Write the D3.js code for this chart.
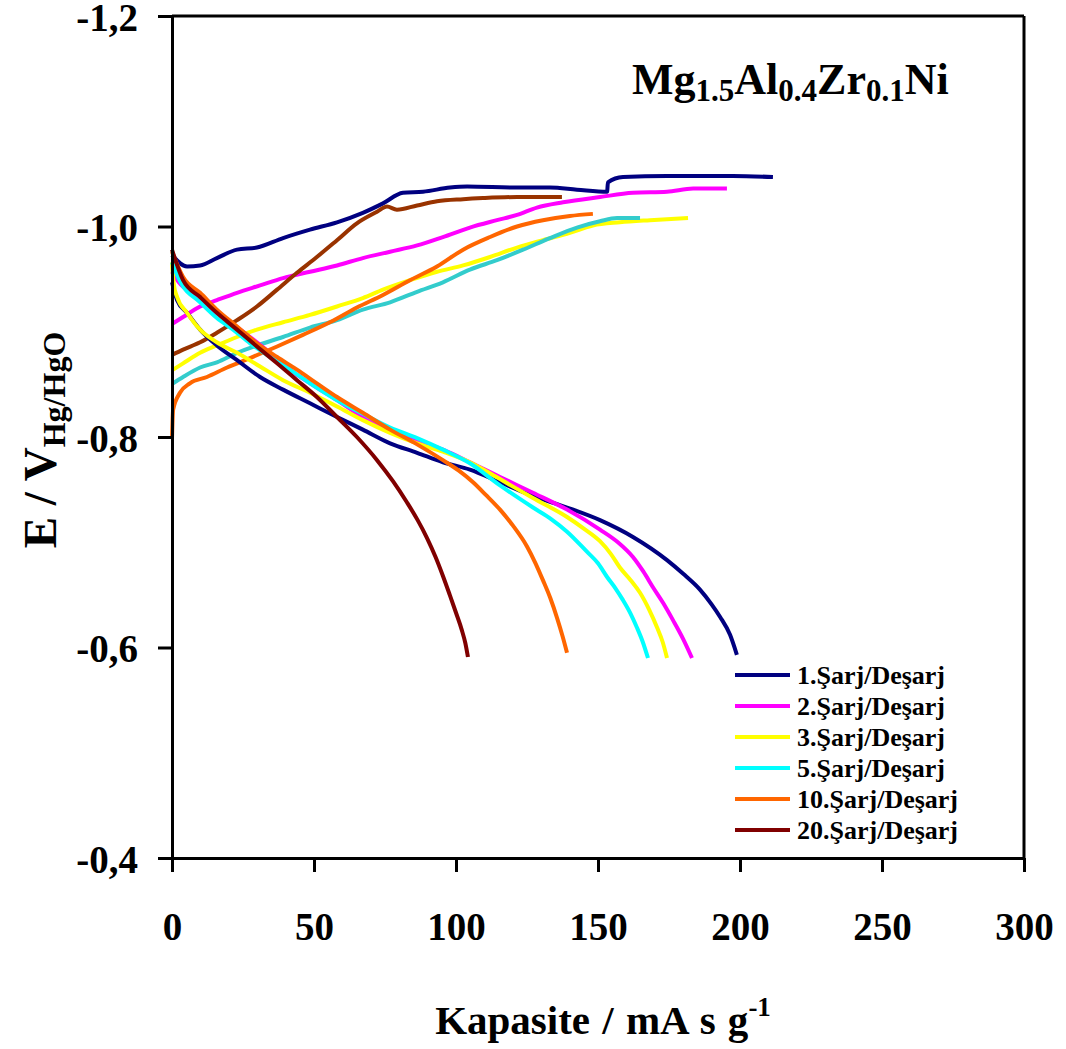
<!DOCTYPE html>
<html>
<head>
<meta charset="utf-8">
<script src="https://cdn.jsdelivr.net/npm/d3@7/dist/d3.min.js"></script>
<style>
  html, body { margin: 0; padding: 0; background: #fff; }
  svg { display: block; }
  text { font-family: "Liberation Serif", "Times New Roman", serif; font-weight: bold; fill: #000; }
</style>
</head>
<body>
<svg id="chart" width="1066" height="1049"></svg>
<script>
// ---------- DATA ----------
const xTicks = [0, 50, 100, 150, 200, 250, 300];
const xTickLabels = ["0", "50", "100", "150", "200", "250", "300"];
const yTicks = [-1.2, -1.0, -0.8, -0.6, -0.4];
const yTickLabels = ["-1,2", "-1,0", "-0,8", "-0,6", "-0,4"];

const seriesNames = ["1.Şarj/Deşarj", "2.Şarj/Deşarj", "3.Şarj/Deşarj", "5.Şarj/Deşarj", "10.Şarj/Deşarj", "20.Şarj/Deşarj"];
const dischargeColors = ["#000080", "#FF00FF", "#FFFF00", "#00FFFF", "#FF6600", "#800000"];
const chargeColors = ["#000080", "#FF00FF", "#FFFF00", "#33CCCC", "#FF6600", "#993300"];

// charge curves [capacity, E]
const charge1 = [[0,-0.973],[5.3,-0.962],[9.9,-0.963],[15.8,-0.970],[22.9,-0.978],[29.9,-0.980],[39.1,-0.989],[48.6,-0.997],[58.1,-1.004],[67.2,-1.013],[74.3,-1.022],[81.3,-1.032],[88.4,-1.033],[97.9,-1.037],[103.9,-1.038],[121.5,-1.037],[133.1,-1.037],[142.6,-1.035],[153.2,-1.033],[153.5,-1.042],[158.8,-1.047],[174.3,-1.048],[197.5,-1.048],[211.6,-1.047]];
const charge2 = [[0.4,-0.908],[3.9,-0.914],[9.9,-0.924],[15.8,-0.930],[22.9,-0.937],[31.0,-0.944],[39.1,-0.951],[48.6,-0.957],[58.1,-0.963],[67.2,-0.970],[76.8,-0.976],[86.3,-0.982],[95.4,-0.990],[104.9,-0.999],[114.4,-1.006],[121.5,-1.011],[128.5,-1.018],[137.7,-1.023],[150.7,-1.028],[162.3,-1.032],[174.3,-1.033],[183.5,-1.036],[195.4,-1.036]];
const charge3 = [[0.4,-0.864],[3.9,-0.870],[9.9,-0.880],[15.8,-0.887],[22.9,-0.895],[29.9,-0.902],[39.1,-0.909],[48.6,-0.916],[58.1,-0.924],[67.2,-0.932],[74.3,-0.940],[83.8,-0.949],[93.3,-0.957],[102.5,-0.963],[112.0,-0.971],[121.5,-0.980],[130.6,-0.987],[140.1,-0.994],[148.2,-1.001],[157.7,-1.004],[168.3,-1.006],[181.7,-1.008]];
const charge5 = [[0.4,-0.851],[3.9,-0.857],[9.9,-0.866],[15.8,-0.871],[22.9,-0.880],[29.9,-0.887],[39.1,-0.895],[48.6,-0.904],[58.1,-0.911],[67.2,-0.921],[76.8,-0.928],[86.3,-0.938],[95.4,-0.947],[104.9,-0.959],[114.4,-0.968],[123.6,-0.978],[133.1,-0.989],[142.6,-0.999],[150.7,-1.005],[156.7,-1.008],[164.8,-1.008]];
const charge10 = [[0,-0.798],[0.4,-0.826],[2.8,-0.842],[6.3,-0.851],[12.3,-0.857],[19.4,-0.866],[27.5,-0.875],[37.0,-0.886],[46.1,-0.897],[55.6,-0.909],[65.1,-0.923],[74.3,-0.935],[83.8,-0.949],[93.3,-0.962],[102.5,-0.978],[112.0,-0.990],[121.5,-1.000],[130.6,-1.006],[140.1,-1.010],[148.2,-1.012]];
const charge20 = [[0,-0.878],[3.9,-0.883],[9.9,-0.890],[15.8,-0.899],[22.9,-0.911],[29.9,-0.924],[37.0,-0.940],[44.0,-0.956],[51.0,-0.971],[58.1,-0.987],[65.1,-1.003],[72.2,-1.014],[75.7,-1.019],[79.2,-1.016],[86.3,-1.020],[93.3,-1.024],[102.5,-1.026],[109.5,-1.027],[121.5,-1.028],[137.3,-1.028]];

// discharge curves [capacity, E]
const discharge1 = [[0,-0.947],[1.8,-0.930],[5.3,-0.918],[9.9,-0.902],[15.8,-0.887],[22.9,-0.873],[31.0,-0.857],[39.1,-0.845],[48.6,-0.832],[58.1,-0.819],[67.2,-0.807],[76.8,-0.794],[86.3,-0.785],[95.4,-0.776],[104.9,-0.769],[115.5,-0.757],[127.1,-0.744],[139.1,-0.733],[150.7,-0.721],[162.3,-0.705],[174.3,-0.683],[180.0,-0.670],[185.9,-0.655],[190.0,-0.641],[193.0,-0.629],[196.5,-0.612],[198.9,-0.593]];
const discharge2 = [[0,-0.957],[1.8,-0.949],[6.3,-0.937],[12.3,-0.924],[19.4,-0.911],[27.5,-0.895],[34.5,-0.880],[41.5,-0.864],[48.6,-0.851],[58.1,-0.835],[67.2,-0.819],[76.8,-0.807],[86.3,-0.797],[95.4,-0.788],[104.9,-0.776],[115.5,-0.762],[127.1,-0.747],[139.1,-0.731],[150.7,-0.712],[157.0,-0.700],[162.3,-0.686],[166.0,-0.672],[169.4,-0.657],[173.0,-0.642],[176.4,-0.626],[180.0,-0.608],[183.1,-0.590]];
const discharge3 = [[0,-0.966],[0.7,-0.944],[1.8,-0.933],[5.3,-0.918],[9.9,-0.902],[15.8,-0.890],[22.9,-0.880],[31.0,-0.867],[39.1,-0.854],[48.6,-0.842],[58.1,-0.829],[67.2,-0.816],[76.8,-0.804],[86.3,-0.794],[95.4,-0.786],[104.9,-0.776],[115.5,-0.760],[127.1,-0.742],[139.1,-0.724],[145.0,-0.713],[150.7,-0.701],[154.5,-0.689],[157.7,-0.676],[161.5,-0.664],[164.8,-0.652],[168.0,-0.636],[170.8,-0.619],[172.8,-0.605],[174.3,-0.590]];
const discharge5 = [[0,-0.966],[2.8,-0.948],[9.9,-0.928],[15.8,-0.913],[21.5,-0.902],[27.5,-0.889],[34.5,-0.876],[41.5,-0.864],[48.6,-0.851],[58.1,-0.835],[67.2,-0.822],[76.8,-0.809],[86.3,-0.799],[95.4,-0.788],[104.9,-0.775],[115.5,-0.754],[127.1,-0.733],[133.5,-0.722],[139.1,-0.710],[146.1,-0.691],[150.0,-0.680],[153.2,-0.667],[156.2,-0.656],[158.8,-0.645],[161.5,-0.632],[163.7,-0.619],[165.8,-0.605],[167.6,-0.590]];
const discharge10 = [[0,-0.976],[3.9,-0.952],[9.9,-0.937],[15.8,-0.921],[22.9,-0.905],[29.9,-0.889],[37.0,-0.876],[44.0,-0.864],[51.0,-0.851],[58.1,-0.838],[67.2,-0.823],[76.8,-0.807],[86.3,-0.793],[95.4,-0.778],[101.0,-0.768],[106.0,-0.757],[110.5,-0.745],[115.5,-0.731],[120.0,-0.716],[125.0,-0.696],[128.0,-0.680],[130.6,-0.664],[133.2,-0.647],[135.6,-0.628],[137.5,-0.611],[139.1,-0.595]];
const discharge20 = [[0,-0.978],[3.9,-0.949],[9.9,-0.933],[15.8,-0.918],[22.9,-0.902],[29.9,-0.886],[37.0,-0.870],[44.0,-0.854],[51.0,-0.838],[58.1,-0.819],[65.1,-0.800],[72.2,-0.778],[77.8,-0.758],[82.7,-0.738],[86.5,-0.721],[89.8,-0.704],[92.8,-0.686],[95.4,-0.668],[97.8,-0.650],[100.0,-0.633],[102.0,-0.617],[103.3,-0.604],[104.2,-0.591]];

const charges = [charge1, charge2, charge3, charge5, charge10, charge20];
const discharges = [discharge1, discharge2, discharge3, discharge5, discharge10, discharge20];

// ---------- CHART ----------
const svg = d3.select("#chart");
const L = 172, R = 1024, T = 16, B = 858;

const x = d3.scaleLinear().domain([0, 300]).range([L, R]);
const y = d3.scaleLinear().domain([-0.4, -1.2]).range([B, T]);

const line = d3.line().x(d => x(d[0])).y(d => y(d[1])).curve(d3.curveMonotoneX);

const plot = svg.append("g");
charges.forEach((s, i) => {
  plot.append("path").datum(s).attr("d", line)
    .attr("fill", "none").attr("stroke", chargeColors[i])
    .attr("stroke-width", 4).attr("stroke-linejoin", "round");
});
discharges.forEach((s, i) => {
  plot.append("path").datum(s).attr("d", line)
    .attr("fill", "none").attr("stroke", dischargeColors[i])
    .attr("stroke-width", 4).attr("stroke-linejoin", "round");
});

// frame (top and right)
svg.append("line").attr("x1", x(0)).attr("x2", x(300)).attr("y1", y(-1.2)).attr("y2", y(-1.2))
  .attr("stroke", "#000").attr("stroke-width", 3);
svg.append("line").attr("x1", x(300)).attr("x2", x(300)).attr("y1", y(-1.2)).attr("y2", y(-0.4))
  .attr("stroke", "#000").attr("stroke-width", 3);

// axes
const yAxis = d3.axisLeft(y).tickValues(yTicks).tickSize(14).tickSizeOuter(0)
  .tickPadding(20).tickFormat((d, i) => yTickLabels[i]);
const gy = svg.append("g").attr("transform", `translate(${L},0)`).call(yAxis);

const xAxis = d3.axisBottom(x).tickValues(xTicks).tickSize(14).tickSizeOuter(0)
  .tickPadding(40).tickFormat((d, i) => xTickLabels[i]);
const gx = svg.append("g").attr("transform", `translate(0,${B})`).call(xAxis);

[gx, gy].forEach(g => {
  g.select(".domain").attr("stroke", "#000").attr("stroke-width", 3);
  g.selectAll(".tick line").attr("stroke", "#000").attr("stroke-width", 3);
  g.selectAll(".tick text").attr("font-family", "Liberation Serif, serif")
    .attr("font-weight", "bold").attr("fill", "#000");
});
gy.selectAll(".tick text").attr("font-size", 39).attr("dy", "0.36em");
gx.selectAll(".tick text").attr("font-size", 39);

// axis titles
const xt = svg.append("text").attr("x", 603).attr("y", 1034).attr("text-anchor", "middle")
  .attr("font-size", 41).attr("word-spacing", 2);
xt.append("tspan").text("Kapasite / mA s g");
xt.append("tspan").attr("dy", -18).attr("font-size", 27).text("-1");

const yt = svg.append("text").attr("transform", "translate(56,440) rotate(-90)")
  .attr("text-anchor", "middle").attr("font-size", 47);
yt.append("tspan").text("E / V");
yt.append("tspan").attr("dy", 9).attr("font-size", 32).text("Hg/HgO");

// chart title
const tt = svg.append("text").attr("x", 632).attr("y", 94).attr("font-size", 44);
tt.append("tspan").text("Mg");
tt.append("tspan").attr("dy", 7).attr("font-size", 31).text("1.5");
tt.append("tspan").attr("dy", -7).text("Al");
tt.append("tspan").attr("dy", 7).attr("font-size", 31).text("0.4");
tt.append("tspan").attr("dy", -7).text("Zr");
tt.append("tspan").attr("dy", 7).attr("font-size", 31).text("0.1");
tt.append("tspan").attr("dy", -7).text("Ni");

// legend
const legend = svg.append("g");
seriesNames.forEach((name, i) => {
  const yy = 675 + i * 31;
  legend.append("line").attr("x1", 735).attr("x2", 790).attr("y1", yy).attr("y2", yy)
    .attr("stroke", dischargeColors[i]).attr("stroke-width", 4);
  legend.append("text").attr("x", 797).attr("y", yy + 9).attr("font-size", 26).text(name);
});
</script>
</body>
</html>
